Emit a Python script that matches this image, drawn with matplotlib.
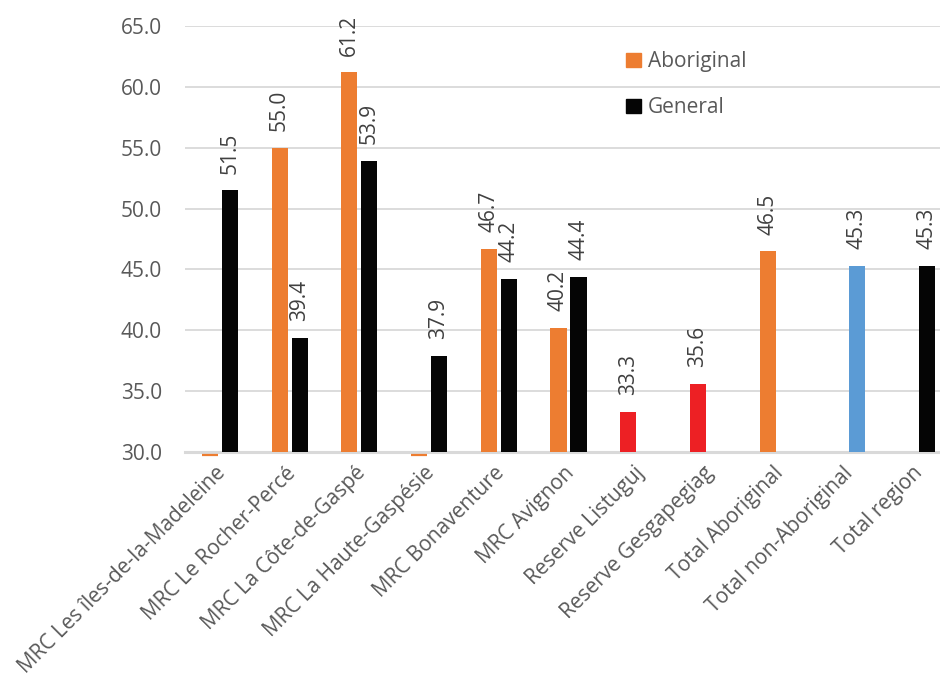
import numpy as np
import matplotlib
matplotlib.use("Agg")
import matplotlib.pyplot as plt
from matplotlib.patches import Patch

plt.rcParams['font.family'] = ['Open Sans', 'DejaVu Sans']

categories = [
    "MRC Les îles-de-la-Madeleine",
    "MRC Le Rocher-Percé",
    "MRC La Côte-de-Gaspé",
    "MRC La Haute-Gaspésie",
    "MRC Bonaventure",
    "MRC Avignon",
    "Reserve Listuguj",
    "Reserve Gesgapegiag",
    "Total Aboriginal",
    "Total non-Aboriginal",
    "Total region",
]
aboriginal = [0.0, 55.0, 61.2, 0.0, 46.7, 40.2, 33.3, 35.6, 46.5, np.nan, np.nan]
general = [51.5, 39.4, 53.9, 37.9, 44.2, 44.4, np.nan, np.nan, np.nan, 45.3, 45.3]

ORANGE = "#ED7D31"
BLACK = "#050505"
RED = "#ED2024"
BLUE = "#5B9BD5"

abo_colors = [RED if c.startswith("Reserve") else ORANGE for c in categories]
gen_colors = [BLUE if c == "Total non-Aboriginal" else BLACK for c in categories]

yticks = [30.0, 35.0, 40.0, 45.0, 50.0, 55.0, 60.0, 65.0]
ymin, ymax = 30.0, 65.0

FS = 15

fig = plt.figure(figsize=(9.4, 6.85), dpi=100)
ax = fig.add_axes([185 / 940, 233 / 685, 767 / 940, 426 / 685])

x = np.arange(len(categories))
width = 0.23
off = 0.1435

label_color = "#404040"
tick_color = "#595959"

def draw_series(xs, vals, colors):
    for xi, v, col in zip(xs, vals, colors):
        if np.isnan(v):
            continue
        if v <= ymin:
            # value below the axis minimum: a thin stub on the baseline
            ax.hlines(ymin - 0.25, xi - width / 2, xi + width / 2, color=col,
                      lw=1.6, clip_on=False, zorder=3)
            continue
        ax.bar(xi, v - ymin, bottom=ymin, width=width, color=col, zorder=3)
        ax.annotate(f"{v:.1f}", xy=(xi, v), xytext=(0, 12),
                    textcoords="offset points", rotation=90,
                    ha="center", va="bottom", fontsize=FS, color=label_color)

draw_series(x - off, aboriginal, abo_colors)
draw_series(x + off, general, gen_colors)

ax.set_xlim(-0.5, len(categories) - 0.5)
ax.set_ylim(ymin, ymax)
ax.set_yticks(yticks)
ax.set_yticklabels([f"{t:.1f}" for t in yticks])
ax.yaxis.grid(True, color="#D9D9D9", lw=1.3, zorder=0)
ax.set_axisbelow(True)

for s in ["top", "right", "left"]:
    ax.spines[s].set_visible(False)
ax.spines["bottom"].set_color("#D9D9D9")
ax.spines["bottom"].set_linewidth(2.2)

ax.tick_params(axis="y", length=0, pad=16.5, labelsize=FS, labelcolor=tick_color)
ax.tick_params(axis="x", length=0)
ax.set_xticks(x)
ax.set_xticklabels([])
for xi, name in zip(x, categories):
    ax.annotate(name, xy=(xi, ymin), xycoords="data", xytext=(2, -13),
                textcoords="offset points", rotation=45, rotation_mode="anchor",
                ha="right", va="center", fontsize=FS, color=tick_color,
                annotation_clip=False)

handles = [Patch(color=ORANGE, label="Aboriginal"), Patch(color=BLACK, label="General")]
ax.legend(handles=handles, loc="upper left", bbox_to_anchor=(0.551, 0.985),
          frameon=False, fontsize=FS, handlelength=0.68, handleheight=0.68,
          handletextpad=0.35, labelspacing=1.2, labelcolor=tick_color)

fig.savefig("out.png", dpi=100, facecolor="white")
